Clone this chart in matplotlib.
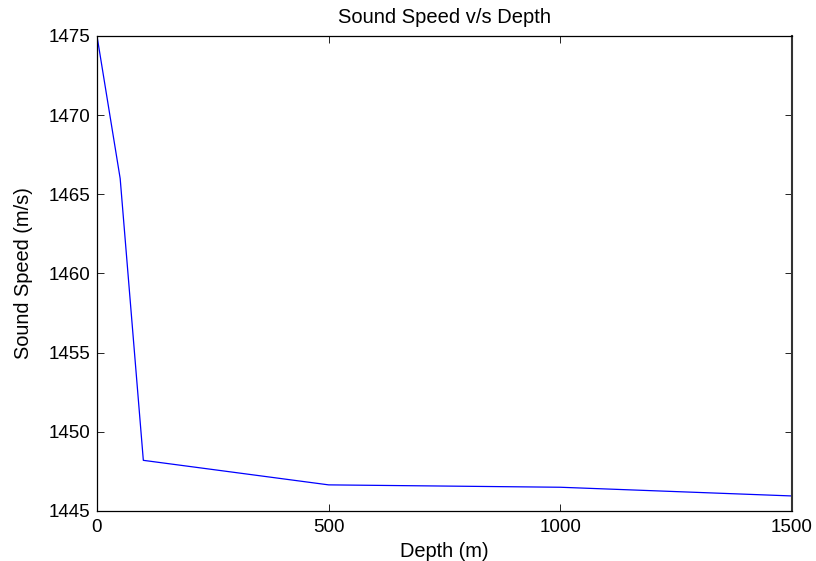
import matplotlib
matplotlib.use("Agg")
import matplotlib.pyplot as plt

# Sound speed profile
depth = [0, 50, 100, 500, 1000, 1500]
speed = [1475.0, 1466.0, 1448.2, 1446.65, 1446.5, 1445.95]

xticks = [0, 500, 1000, 1500]
yticks = [1445, 1450, 1455, 1460, 1465, 1470, 1475]

plt.rcParams['font.family'] = ['Liberation Sans', 'DejaVu Sans']

W, H = 816, 561
L, R, T, B = 97, 792, 36, 511

fig = plt.figure(figsize=(W / 100, H / 100), dpi=100)
ax = fig.add_axes([L / W, 1 - B / H, (R - L) / W, (B - T) / H])

ax.plot(depth, speed, color=(0, 0, 1), linewidth=0.9)

ax.set_xlim(0, 1500)
ax.set_ylim(1445, 1475)
ax.set_xticks(xticks)
ax.set_yticks(yticks)
ax.tick_params(direction='in', length=5, width=0.6, top=True, right=True,
               labelsize=13.5)
ax.tick_params(axis='y', pad=5)
ax.tick_params(axis='x', pad=6)
for s in ax.spines.values():
    s.set_linewidth(0.9)
ax.spines['right'].set_linewidth(1.5)
ax.spines['right'].set_color('#333333')

ax.set_title('Sound Speed v/s Depth', fontsize=14.5, pad=9.5)
ax.set_xlabel('Depth (m)', fontsize=14.4)
ax.set_ylabel('Sound Speed (m/s)', fontsize=14.4)
ax.xaxis.set_label_coords(0.5, -(542 - B) / (B - T))
ax.yaxis.set_label_coords(-(L - 33) / (R - L), 0.5)

fig.savefig('out.png', dpi=100)
